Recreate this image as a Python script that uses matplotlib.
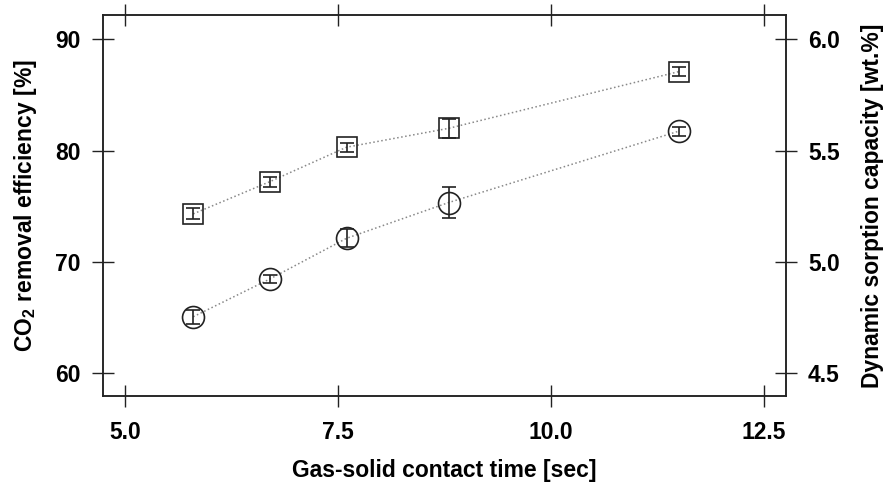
import matplotlib.pyplot as plt

plt.rcParams['font.family'] = ['Liberation Sans', 'DejaVu Sans']
plt.rcParams['font.weight'] = 'bold'
plt.rcParams['mathtext.fontset'] = 'custom'
plt.rcParams['mathtext.rm'] = 'Liberation Sans:bold'
plt.rcParams['mathtext.bf'] = 'Liberation Sans:bold'

# contact time [sec]
contact_time = [5.8, 6.7, 7.6, 8.8, 11.5]

# CO2 removal efficiency [%] (squares, left axis)
efficiency = [74.3, 77.2, 80.3, 82.0, 87.1]
efficiency_err = [0.5, 0.45, 0.4, 0.85, 0.42]

# dynamic sorption capacity [wt.%] (circles, right axis)
capacity = [4.752, 4.922, 5.105, 5.266, 5.587]
capacity_err = [0.032, 0.02, 0.04, 0.07, 0.02]

x_ticks = [5.0, 7.5, 10.0, 12.5]
left_ticks = [60, 70, 80, 90]
right_ticks = [4.5, 5.0, 5.5, 6.0]

edge = '#222222'
fs = 16.5

fig = plt.figure(figsize=(8.88, 4.92), dpi=100)
ax = fig.add_axes([0.116, 0.195, 0.769, 0.7745])
ax2 = ax.twinx()

# squares: removal efficiency
ax.plot(contact_time, efficiency, ':', color='#888888', lw=1.1, zorder=1)
ax.errorbar(contact_time, efficiency, yerr=efficiency_err, fmt='none',
            ecolor=edge, elinewidth=1.2, capsize=5, capthick=1.2, zorder=2)
ax.plot(contact_time, efficiency, 's', ms=14.5, mfc='none', mec=edge,
        mew=1.2, zorder=3)

# circles: sorption capacity
ax2.plot(contact_time, capacity, ':', color='#888888', lw=1.1, zorder=1)
ax2.errorbar(contact_time, capacity, yerr=capacity_err, fmt='none',
             ecolor=edge, elinewidth=1.2, capsize=5, capthick=1.2, zorder=2)
ax2.plot(contact_time, capacity, 'o', ms=15.8, mfc='none', mec=edge,
         mew=1.2, zorder=3)

ax.set_xlim(4.74, 12.76)
ax.set_ylim(57.9, 92.2)
ax2.set_ylim(4.395, 6.11)

ax.set_xticks(x_ticks)
ax.set_xticklabels([f'{t:.1f}' for t in x_ticks])
ax.set_yticks(left_ticks)
ax2.set_yticks(right_ticks)
ax2.set_yticklabels([f'{t:.1f}' for t in right_ticks])

ax.tick_params(axis='x', which='major', direction='inout', length=16,
               width=1, color=edge, labelsize=fs, pad=10, top=True)
ax.tick_params(axis='y', which='major', direction='inout', length=16,
               width=1, color=edge, labelsize=fs, pad=8)
ax2.tick_params(axis='y', which='major', direction='inout', length=16,
                width=1, color=edge, labelsize=fs, pad=8)
for lab in ax.get_xticklabels() + ax.get_yticklabels() + ax2.get_yticklabels():
    lab.set_fontweight('bold')

for a in (ax, ax2):
    for sp in a.spines.values():
        sp.set_color(edge)
        sp.set_linewidth(1.1)

ax.set_xlabel('Gas-solid contact time [sec]', fontsize=fs, fontweight='bold',
              labelpad=11)
ax.set_ylabel(r'CO$_\mathbf{2}$ removal efficiency [%]', fontsize=fs,
              fontweight='bold', labelpad=12)
ax2.set_ylabel('Dynamic sorption capacity [wt.%]', fontsize=fs,
               fontweight='bold', labelpad=15)

plt.savefig('out.png', dpi=100)
